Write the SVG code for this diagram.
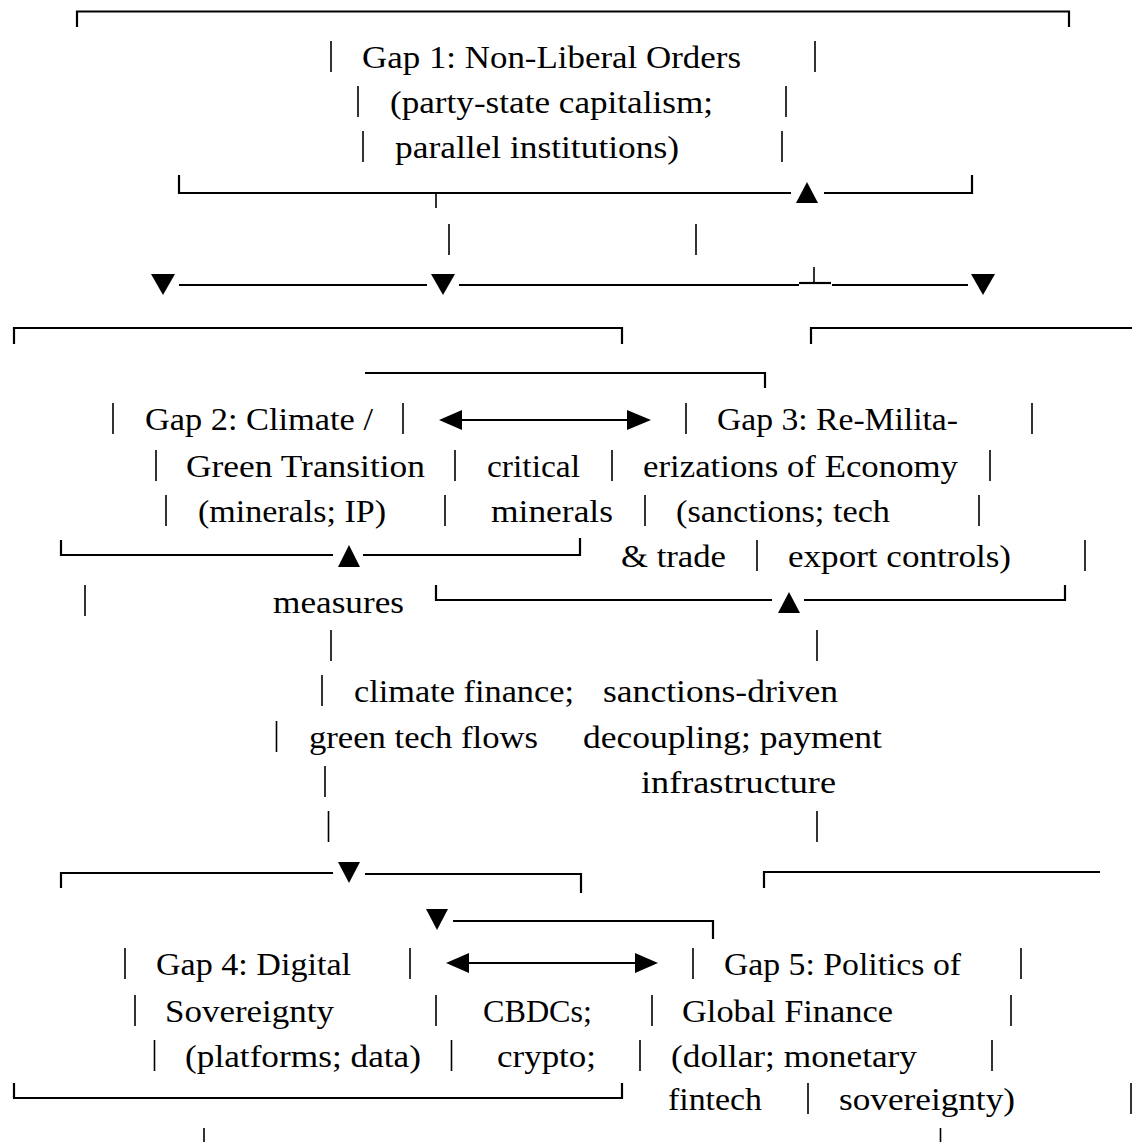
<svg xmlns="http://www.w3.org/2000/svg" width="1132" height="1142" viewBox="0 0 1132 1142">
<style>
.t{font-family:"Liberation Serif","Times New Roman",serif;font-size:31px;fill:#000}
.h{stroke:#000;stroke-width:2.2;fill:none;stroke-linecap:butt}
.v{stroke:#000;stroke-width:1.6;fill:none}
.tri{fill:#000}
</style>
<rect width="1132" height="1142" fill="#fff"/>
<g id="gap1">
<path class="h" d="M77,27 V11.5 H1069 V27"/>
<path class="v" d="M331,41V72 M815,41V72 M358,86V117 M786,86V117 M363,131V162 M782,131V162"/>
<text class="t" x="362" y="68" textLength="379" lengthAdjust="spacingAndGlyphs">Gap 1: Non-Liberal Orders</text>
<text class="t" x="390" y="113" textLength="323" lengthAdjust="spacingAndGlyphs">(party-state capitalism;</text>
<text class="t" x="395" y="158" textLength="284" lengthAdjust="spacingAndGlyphs">parallel institutions)</text>
<path class="h" d="M179,175 V193 H791 M824,193 H972 V175"/>
</g>
<g id="gap2">
<path class="h" d="M14,344 V328 H622 V344"/>
<path class="v" d="M113,403V434 M403,403V434 M156,450V481 M455,450V481 M166,495V526 M445,495V526"/>
<text class="t" x="145" y="430" textLength="228" lengthAdjust="spacingAndGlyphs">Gap 2: Climate /</text>
<text class="t" x="186" y="477" textLength="239" lengthAdjust="spacingAndGlyphs">Green Transition</text>
<text class="t" x="198" y="522" textLength="188" lengthAdjust="spacingAndGlyphs">(minerals; IP)</text>
<path class="h" d="M61,540 V555 H333 M363,555 H580 V538"/>
</g>
<g id="gap3">
<path class="h" d="M811,344 V328 H1132"/>
<path class="v" d="M686,403V434 M1032,403V434 M612,450V481 M990,450V481 M645,495V526 M979,495V526 M757,540V571 M1085,540V571"/>
<text class="t" x="717" y="430" textLength="241" lengthAdjust="spacingAndGlyphs">Gap 3: Re-Milita-</text>
<text class="t" x="643" y="477" textLength="315" lengthAdjust="spacingAndGlyphs">erizations of Economy</text>
<text class="t" x="676" y="522" textLength="214" lengthAdjust="spacingAndGlyphs">(sanctions; tech</text>
<text class="t" x="788" y="567" textLength="223" lengthAdjust="spacingAndGlyphs">export controls)</text>
<path class="h" d="M436,585 V600 H772 M804,600 H1065 V585"/>
</g>
<g id="gap4">
<path class="h" d="M61,888 V873 H333 M365,874 H581 V893"/>
<path class="v" d="M125,948V979 M410,948V979 M135,995V1026 M436,995V1026 M154.5,1040V1071 M451.5,1040V1071"/>
<text class="t" x="156" y="975" textLength="195" lengthAdjust="spacingAndGlyphs">Gap 4: Digital</text>
<text class="t" x="165" y="1022" textLength="169" lengthAdjust="spacingAndGlyphs">Sovereignty</text>
<text class="t" x="185" y="1067" textLength="236" lengthAdjust="spacingAndGlyphs">(platforms; data)</text>
<path class="h" d="M14,1083 V1098 H622 V1083"/>
</g>
<g id="gap5">
<path class="h" d="M764,888 V872 H1100"/>
<path class="v" d="M693,948V979 M1021,948V979 M652,995V1026 M1011,995V1026 M640,1040V1071 M992,1040V1071 M808,1083V1114 M1131,1083V1114"/>
<text class="t" x="724" y="975" textLength="237" lengthAdjust="spacingAndGlyphs">Gap 5: Politics of</text>
<text class="t" x="682" y="1022" textLength="211" lengthAdjust="spacingAndGlyphs">Global Finance</text>
<text class="t" x="671" y="1067" textLength="246" lengthAdjust="spacingAndGlyphs">(dollar; monetary</text>
<text class="t" x="839" y="1110" textLength="176" lengthAdjust="spacingAndGlyphs">sovereignty)</text>
</g>
<g id="label-minerals">
<text class="t" x="487" y="477" textLength="93" lengthAdjust="spacingAndGlyphs">critical</text>
<text class="t" x="491" y="522" textLength="122" lengthAdjust="spacingAndGlyphs">minerals</text>
<text class="t" x="621" y="567" textLength="105" lengthAdjust="spacingAndGlyphs">&amp; trade</text>
<text class="t" x="273" y="613" textLength="131" lengthAdjust="spacingAndGlyphs">measures</text>
</g>
<g id="label-finance">
<text class="t" x="354" y="702" textLength="220" lengthAdjust="spacingAndGlyphs">climate finance;</text>
<text class="t" x="309" y="748" textLength="229" lengthAdjust="spacingAndGlyphs">green tech flows</text>
</g>
<g id="label-sanctions">
<text class="t" x="603" y="702" textLength="235" lengthAdjust="spacingAndGlyphs">sanctions-driven</text>
<text class="t" x="583" y="748" textLength="299" lengthAdjust="spacingAndGlyphs">decoupling; payment</text>
<text class="t" x="641" y="793" textLength="195" lengthAdjust="spacingAndGlyphs">infrastructure</text>
</g>
<g id="label-cbdc">
<text class="t" x="483" y="1022" textLength="109" lengthAdjust="spacingAndGlyphs">CBDCs;</text>
<text class="t" x="497" y="1067" textLength="99" lengthAdjust="spacingAndGlyphs">crypto;</text>
<text class="t" x="668" y="1110" textLength="94" lengthAdjust="spacingAndGlyphs">fintech</text>
</g>
<g id="connectors">
<path class="v" d="M436,193V208 M449,224V255 M696,224V255 M814,267V284"/>
<polygon class="tri" points="796,203 818,203 807,182"/>
<path class="h" d="M179,285 H427 M459,285 H799 M832,285 H968"/>
<path class="h" d="M799,283 H831" stroke-width="3"/>
<polygon class="tri" points="151,274 175,274 163,295"/>
<polygon class="tri" points="431,274 455,274 443,295"/>
<polygon class="tri" points="971,274 995,274 983,295"/>
<path class="h" d="M365,373 H765 V388"/>
<polygon class="tri" points="439,420 462,410 462,430"/>
<path class="h" d="M462,420 H628"/>
<polygon class="tri" points="651,420 627,410 627,430"/>
<polygon class="tri" points="338,567 360,567 349,545"/>
<polygon class="tri" points="778,613 800,613 789,592"/>
<path class="v" d="M85,585V616 M331,630V661 M817,630V661 M322,675V706 M276.5,721V752 M325,766V797 M328.5,811V842 M817,811V842"/>
<polygon class="tri" points="338,862 360,862 349,883"/>
<polygon class="tri" points="426,909 448,909 437,930"/>
<path class="h" d="M453,921 H713 V939"/>
<polygon class="tri" points="446,963 469,953 469,973"/>
<path class="h" d="M469,963 H636"/>
<polygon class="tri" points="658,963 635,953 635,973"/>
<path class="v" d="M204,1128V1142 M940.5,1128V1142"/>
</g>
</svg>
